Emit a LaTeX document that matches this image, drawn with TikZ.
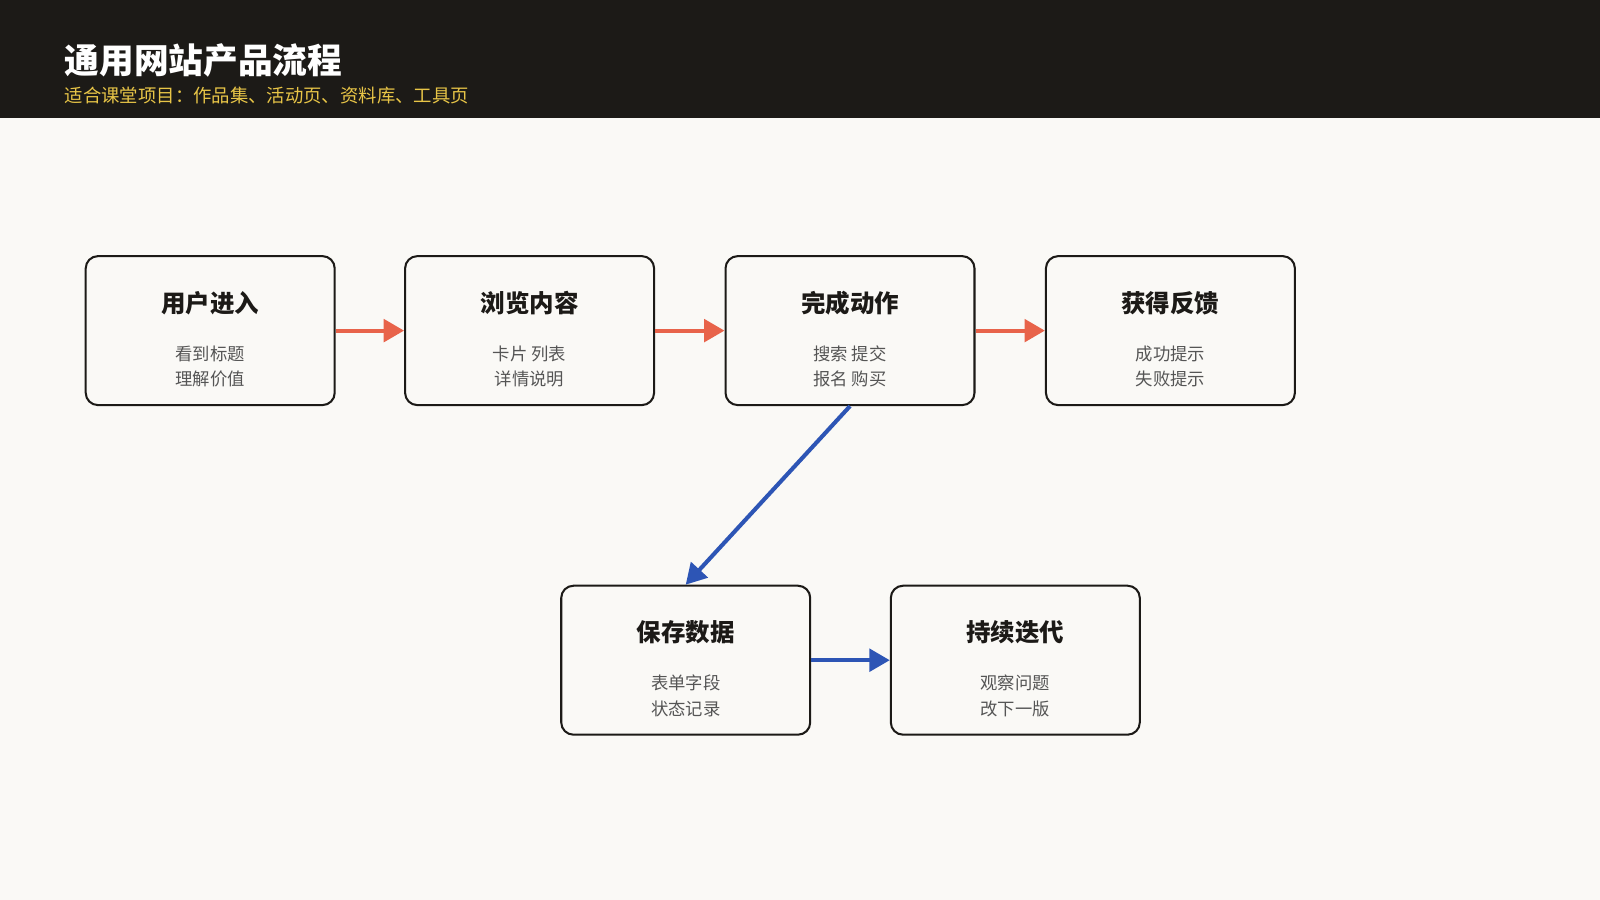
\documentclass[tikz,border=0pt]{standalone}
\usepackage{fontspec}
\setmainfont{Noto Sans CJK SC}
\usetikzlibrary{arrows.meta}
\definecolor{hdr}{HTML}{1C1A17}
\definecolor{bg}{HTML}{FAF9F6}
\definecolor{sub}{HTML}{E8C547}
\definecolor{red}{HTML}{E8634A}
\definecolor{blue}{HTML}{2D55B5}
\definecolor{txt}{HTML}{555555}
\begin{document}
\begin{tikzpicture}[x=1pt,y=-1pt,
 box/.style={draw=hdr,line width=2pt,rounded corners=12pt,fill=bg,minimum width=244pt,minimum height=146pt,inner sep=0pt},
 ttl/.style={font=\fontsize{24}{28}\selectfont\bfseries,text=hdr},
 ln/.style={font=\fontsize{17}{25}\selectfont,text=txt,align=center},
 ra/.style={draw=red,line width=4pt,-{Triangle[length=20pt,width=22pt]}},
 ba/.style={draw=blue,line width=4pt,-{Triangle[length=20pt,width=22pt]}}]
\useasboundingbox (0,0) rectangle (1568,882);
\fill[bg] (0,0) rectangle (1568,882);
\fill[hdr] (0,0) rectangle (1568,116);
\node[anchor=west,text=white,font=\fontsize{34}{40}\selectfont\bfseries] (t) at (60,59) {通用网站产品流程};
\node[anchor=west,text=sub,font=\fontsize{18}{22}\selectfont] (s) at (60,94) {适合课堂项目：作品集、活动页、资料库、工具页};
\foreach \n/\x/\y/\a/\b/\c in {a/206/324/用户进入/看到标题/理解价值, b/519/324/浏览内容/卡片 列表/详情说明, c/833/324/完成动作/搜索 提交/报名 购买, d/1147/324/获得反馈/成功提示/失败提示, e/672/647/保存数据/表单字段/状态记录, f/995/647/持续迭代/观察问题/改下一版}{
 \node[box] (\n) at (\x,\y) {};
 \node[ttl] (\n t) at (\x,\y-27) {\a};
 \node[ln] (\n l) at (\x,\y+35) {\b\\\c};
}
\draw[ra] (a.east) -- (b.west);
\draw[ra] (b.east) -- (c.west);
\draw[ra] (c.east) -- (d.west);
\draw[ba] (c.south) -- (e.north);
\draw[ba] (e.east) -- (f.west);
\end{tikzpicture}
\end{document}
